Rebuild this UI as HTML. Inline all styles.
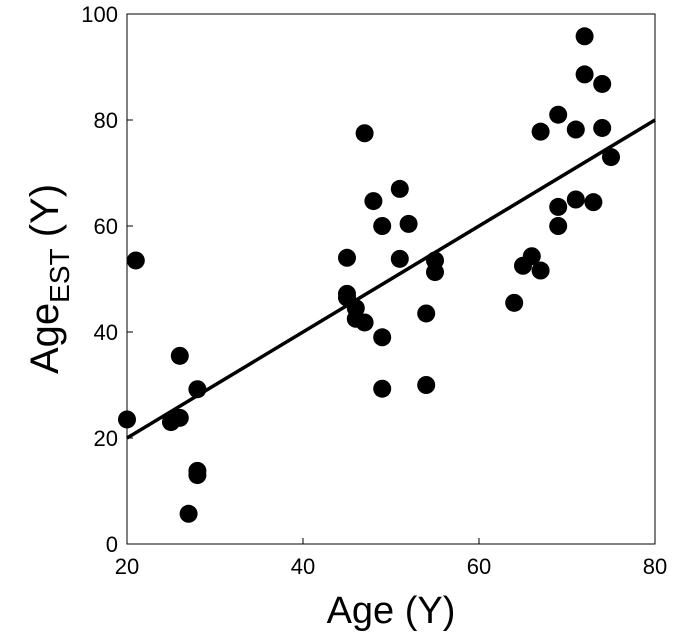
<!DOCTYPE html>
<html><head><meta charset="utf-8"><style>
body{margin:0;background:#fff;}
svg{display:block;font-family:"Liberation Sans",sans-serif;}
</style></head><body>
<svg id="chart" width="675" height="642" viewBox="0 0 675 642">
<g id="axes"></g>
<g id="marks"></g>
<text x="391" y="623" font-size="38" text-anchor="middle">Age (Y)</text>
<text transform="translate(58,279) rotate(-90)" font-size="40" text-anchor="middle">Age<tspan font-size="28" dy="11">EST</tspan><tspan dy="-11"> (Y)</tspan></text>
</svg>
<script>
const xTicks=[20,40,60,80];
const yTicks=[0,20,40,60,80,100];
const ages=[20,21,25,26,26,27,28,28,28,45,45,45,46,46,47,47,48,49,49,49,51,51,52,54,54,55,55,64,65,66,67,67,69,69,69,71,71,72,72,73,74,74,75];
const estimates=[23.5,53.5,23,35.5,23.8,5.7,29.2,13.8,13,54,47.2,46.5,44.5,42.5,41.8,77.5,64.7,60,39,29.3,67,53.8,60.4,43.5,30,53.5,51.3,45.5,52.5,54.3,51.6,77.8,81,63.6,60,78.2,65,95.8,88.6,64.5,86.8,78.5,73];
const fitX=[20,80];
const fitY=[20,80];
const L=127,R=655,T=14,B=544;
const sx=v=>L+(v-20)/60*(R-L);
const sy=v=>B-v/100*(B-T);
const NS="http://www.w3.org/2000/svg";
const ax=document.getElementById('axes'),mk=document.getElementById('marks');
function el(t,a,p){const e=document.createElementNS(NS,t);for(const k in a)e.setAttribute(k,a[k]);p.appendChild(e);return e;}
const fr=el('rect',{x:L,y:T,width:R-L,height:B-T,fill:'none',stroke:'#000','stroke-width':1},ax);


xTicks.forEach(v=>{
 const t=el('line',{x1:sx(v),x2:sx(v),y1:B,y2:B-6,stroke:'#000'},ax);
 
 
 const l=el('text',{x:sx(v),y:B+30,'font-size':22,'text-anchor':'middle'},ax);l.textContent=v;
 
 
});
yTicks.forEach(v=>{
 const t=el('line',{x1:L,x2:L+6,y1:sy(v),y2:sy(v),stroke:'#000'},ax);
 
 
 const l=el('text',{x:L-9,y:sy(v)+8,'font-size':22,'text-anchor':'end'},ax);l.textContent=v;
 
 
});
ages.forEach((a,i)=>{
 const c=el('circle',{cx:sx(a),cy:sy(estimates[i]),r:9,fill:'#000'},mk);
 
 
});
const fl=el('line',{x1:sx(fitX[0]),y1:sy(fitY[0]),x2:sx(fitX[1]),y2:sy(fitY[1]),stroke:'#000','stroke-width':3.5},mk);


</script>
</body></html>
